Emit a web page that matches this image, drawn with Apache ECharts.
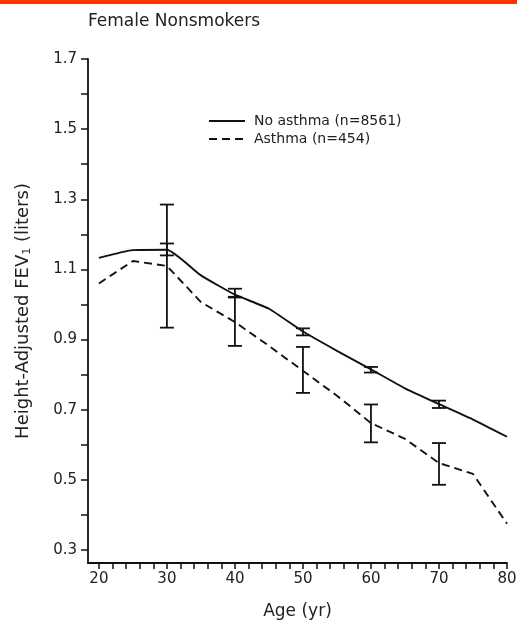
<!DOCTYPE html>
<html>
<head>
<meta charset="utf-8">
<title>Female Nonsmokers</title>
<script src="https://cdn.jsdelivr.net/npm/echarts@6/dist/echarts.min.js"></script>
<style>
  html, body { margin: 0; padding: 0; background: #fff; }
  #chart1 { width: 517px; height: 626px; }
</style>
</head>
<body>
<div id="chart1"></div>
<script type="text/javascript">
// 数据
var ages = [20, 25, 30, 35, 40, 45, 50, 55, 60, 65, 70, 75, 80];
var noAsthma = [1.133, 1.155, 1.156, 1.083, 1.028, 0.988, 0.923, 0.868, 0.815, 0.761, 0.716, 0.672, 0.623];
var asthma = [1.06, 1.124, 1.11, 1.007, 0.95, 0.882, 0.811, 0.74, 0.662, 0.617, 0.548, 0.517, 0.375];
// 误差线 [年龄, 下限, 上限]
var noAsthmaErr = [[30, 1.14, 1.174], [40, 1.022, 1.045], [50, 0.912, 0.932], [60, 0.806, 0.822], [70, 0.705, 0.726]];
var asthmaErr = [[30, 0.934, 1.285], [40, 0.882, 1.02], [50, 0.748, 0.879], [60, 0.607, 0.715], [70, 0.486, 0.605]];
var xTicks = [20, 22, 24, 26, 28, 30, 32, 34, 36, 38, 40, 42, 44, 46, 48, 50, 52, 54, 56, 58, 60, 62, 64, 66, 68, 70, 72, 74, 76, 78, 80];
var xLabels = [20, 30, 40, 50, 60, 70, 80];
var yTicks = [0.3, 0.4, 0.5, 0.6, 0.7, 0.8, 0.9, 1.0, 1.1, 1.2, 1.3, 1.4, 1.5, 1.6, 1.7];
var yLabels = [0.3, 0.5, 0.7, 0.9, 1.1, 1.3, 1.5, 1.7];

var myChart = echarts.init(document.getElementById('chart1'));

function pairs(xs, ys) {
    return xs.map(function (x, i) { return [x, ys[i]]; });
}

function renderErr(params, api) {
    var x = api.value(0);
    var lo = api.coord([x, api.value(1)]);
    var hi = api.coord([x, api.value(2)]);
    var w = 7;
    var style = { stroke: '#111', lineWidth: 1.8 };
    return {
        type: 'group',
        children: [
            { type: 'line', shape: { x1: lo[0], y1: lo[1], x2: hi[0], y2: hi[1] }, style: style },
            { type: 'line', shape: { x1: lo[0] - w, y1: lo[1], x2: lo[0] + w, y2: lo[1] }, style: style },
            { type: 'line', shape: { x1: hi[0] - w, y1: hi[1], x2: hi[0] + w, y2: hi[1] }, style: style }
        ]
    };
}

var font = 'DejaVu Sans, Verdana, sans-serif';
var axisText = { color: '#222', fontFamily: font, fontSize: 15 };

myChart.setOption({
    animation: false,
    backgroundColor: '#fff',
    title: {
        text: 'Female Nonsmokers',
        left: 83,
        top: 8,
        textStyle: { color: '#222', fontWeight: 'normal', fontSize: 17, fontFamily: font }
    },
    graphic: [{
        type: 'rect',
        shape: { x: 0, y: 0, width: 517, height: 4 },
        style: { fill: '#ff3300' }
    }],
    legend: {
        orient: 'vertical',
        left: 203,
        top: 109,
        itemWidth: 36,
        itemHeight: 10,
        itemGap: 4,
        itemStyle: { opacity: 0 },
        data: ['No asthma (n=8561)', 'Asthma (n=454)'],
        textStyle: { color: '#222', fontSize: 14, fontFamily: font, padding: [0, 0, 0, 4] }
    },
    grid: { left: 88, right: 10, top: 59, bottom: 63, outerBoundsMode: 'none', containLabel: false },
    xAxis: {
        type: 'value',
        min: 18.4,
        max: 80,
        name: 'Age (yr)',
        nameLocation: 'middle',
        nameGap: 40,
        nameTextStyle: { color: '#222', fontSize: 17, fontFamily: font },
        splitLine: { show: false },
        axisLine: { lineStyle: { color: '#111', width: 1.8 } },
        axisTick: { customValues: xTicks, length: 6, lineStyle: { color: '#111', width: 1.5 } },
        axisLabel: Object.assign({ customValues: xLabels, margin: 9 }, axisText)
    },
    yAxis: {
        type: 'value',
        min: 0.263,
        max: 1.7,
        name: 'Height-Adjusted FEV{sub|1} (liters)',
        nameLocation: 'middle',
        nameRotate: 90,
        nameGap: 55,
        nameTextStyle: {
            color: '#222', fontSize: 18, fontFamily: font,
            rich: { sub: { fontSize: 11, verticalAlign: 'bottom', padding: [8, 0, 0, 0], color: '#222', fontFamily: font } }
        },
        splitLine: { show: false },
        axisLine: { show: true, lineStyle: { color: '#111', width: 1.8 } },
        axisTick: { show: true, customValues: yTicks, length: 7, lineStyle: { color: '#111', width: 1.5 } },
        axisLabel: Object.assign({ customValues: yLabels, margin: 11, formatter: function (v) { return v.toFixed(1); } }, axisText)
    },
    series: [{
        name: 'No asthma (n=8561)',
        type: 'line',
        symbol: 'none',
        smooth: 0.15,
        data: pairs(ages, noAsthma),
        lineStyle: { color: '#111', width: 1.9 },
        itemStyle: { color: '#111' }
    }, {
        name: 'Asthma (n=454)',
        type: 'line',
        symbol: 'none',
        data: pairs(ages, asthma),
        lineStyle: { color: '#111', width: 1.9, type: [8, 5] },
        itemStyle: { color: '#111' }
    }, {
        type: 'custom',
        renderItem: renderErr,
        data: noAsthmaErr,
        z: 3
    }, {
        type: 'custom',
        renderItem: renderErr,
        data: asthmaErr,
        z: 3
    }]
});
</script>
</body>
</html>
